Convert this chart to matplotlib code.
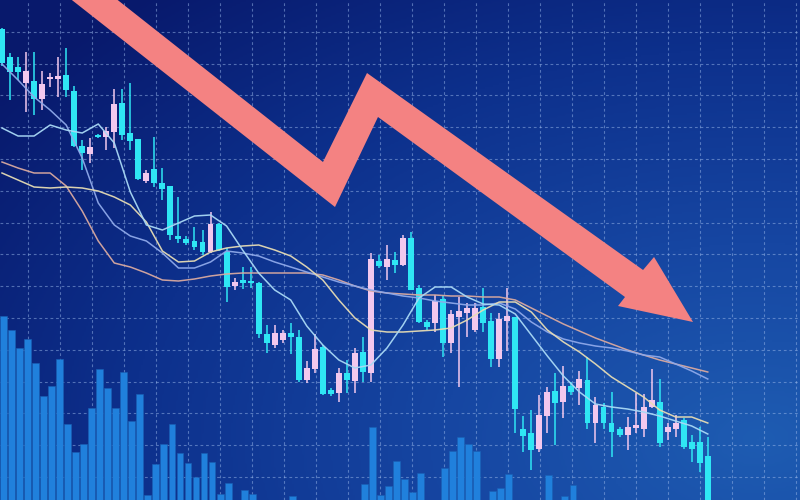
import numpy as np
import matplotlib
matplotlib.use("Agg")
import matplotlib.pyplot as plt
from matplotlib.colors import LinearSegmentedColormap
from matplotlib.patches import Polygon

# ---------------- data (price units, candle index on x) ----------------
open_ = [471, 443, 433, 417, 419, 401, 421, 421, 425, 409,
         354, 346, 365, 363, 368, 397, 367, 361, 319, 331,
         317, 314, 264, 261, 259, 258, 248, 276, 248, 214,
         220, 219, 217, 166, 155, 160, 167, 163, 120, 131,
         153, 110, 107, 127, 119, 148, 127, 239, 233, 240,
         235, 262, 212, 178, 177, 201, 157, 183, 187, 170,
         193, 179, 141, 179, 183, 71, 67, 51, 84, 109,
         98, 114, 112, 120, 77, 93, 77, 71, 65, 72,
         71, 93, 98, 68, 71, 80, 58, 58, 44]
close = [437, 428, 428, 429, 401, 416, 423, 424, 410, 354,
         347, 353, 363, 369, 396, 365, 359, 321, 327, 317,
         311, 265, 261, 257, 253, 248, 276, 250, 213, 218,
         217, 217, 166, 157, 167, 167, 163, 120, 132, 151,
         106, 106, 127, 120, 147, 128, 241, 234, 241, 235,
         262, 210, 178, 173, 199, 157, 186, 189, 192, 192,
         177, 141, 181, 184, 91, 64, 50, 85, 108, 97,
         114, 108, 121, 77, 95, 77, 68, 65, 73, 75,
         93, 100, 57, 73, 77, 53, 51, 37, -10]
high = [472, 447, 443, 448, 448, 429, 427, 443, 452, 414,
        360, 362, 366, 373, 411, 411, 417, 361, 330, 363,
        332, 314, 303, 264, 273, 270, 288, 277, 252, 222,
        233, 233, 218, 175, 175, 170, 177, 170, 139, 166,
        155, 112, 132, 140, 152, 163, 247, 245, 255, 248,
        265, 268, 215, 180, 205, 205, 190, 203, 197, 197,
        212, 187, 187, 212, 183, 84, 90, 105, 113, 127,
        134, 118, 129, 143, 103, 97, 108, 73, 83, 107,
        106, 131, 121, 77, 85, 82, 65, 73, 63]
low = [434, 400, 420, 388, 385, 390, 413, 403, 403, 353,
       330, 337, 362, 350, 352, 360, 350, 320, 317, 313,
       300, 260, 257, 255, 250, 245, 247, 249, 198, 210,
       211, 212, 162, 147, 152, 157, 146, 118, 117, 127,
       105, 104, 98, 107, 107, 118, 118, 232, 220, 227,
       234, 210, 177, 170, 168, 143, 147, 113, 163, 168,
       168, 133, 133, 149, 67, 48, 30, 48, 67, 55,
       82, 105, 95, 71, 57, 71, 43, 63, 50, 67,
       63, 92, 53, 60, 63, 51, 38, 28, -10]

volume = [184, 170, 152, 161, 137, 104, 114, 141, 76, 48,
          56, 92, 131, 112, 92, 128, 79, 106, 5, 36,
          56, 76, 47, 37, 23, 47, 38, 6, 17, 0,
          10, 6, 0, 0, 0, 0, 4, 0, 0, 0,
          0, 0, 0, 0, 0, 16, 73, 5, 14, 39,
          21, 8, 27, 0, 0, 32, 49, 63, 56, 49,
          0, 9, 12, 26, 0, 0, 0, 0, 25, 0,
          4, 15]

# moving-average style lines, one value for every second candle
ma_fast = [372, 364, 364, 375, 370, 367, 376, 357, 308, 275,
           270, 277, 284, 285, 274, 250, 227, 210, 200, 174,
           155, 140, 132, 135, 152, 175, 202, 213, 213, 203,
           196, 195, 186, 165, 144, 124, 108, 96, 93, 91,
           88, 84, 79, 74, 66]
ma_mid = [327, 320, 313, 312, 313, 312, 309, 303, 295, 278,
          249, 238, 239, 248, 252, 254, 255, 250, 244, 233,
          220, 200, 182, 170, 168, 168, 169, 170, 172, 180,
          190, 198, 198, 188, 170, 158, 148, 136, 123, 113,
          103, 90, 83, 83, 77]
ma_long = [436, 420, 403, 390, 375, 342, 297, 275, 264, 259,
           247, 232, 232, 238, 249, 247, 244, 238, 233, 228,
           223, 218, 214, 210, 207, 204, 202, 199, 197, 195,
           195, 197, 191, 178, 168, 161, 157, 154, 152, 149,
           145, 143, 136, 129, 121]
ma_slow = [338, 332, 327, 327, 314, 289, 259, 237, 233, 227,
           220, 219, 221, 224, 226, 227, 227, 227, 227, 227,
           225, 220, 214, 209, 207, 206, 205, 205, 204, 204,
           203, 203, 200, 192, 184, 176, 169, 162, 156, 150,
           145, 140, 136, 132, 128]

# trend arrow outline (candle index, price)
arrow_x = [8.10, 40.02, 45.51, 79.93, 81.30, 86.16, 76.81, 77.68, 46.88, 41.52, 2.37]
arrow_y = [540, 338, 427, 230, 243, 178, 194, 203, 383, 293, 540]

# ---------------- figure ----------------
W, H = 800, 500
fig = plt.figure(figsize=(W / 100, H / 100), dpi=100)
ax = fig.add_axes([0, 0, 1, 1])
xmin, xmax = -0.25, 99.5
ymin, ymax = 0, 500
ax.set_xlim(xmin, xmax)
ax.set_ylim(ymin, ymax)

# background gradient (lighter towards top right)
px = np.linspace(0, W, 400)
py = np.linspace(0, H, 250)
PX, PY = np.meshgrid(px, py)
d = np.sqrt(((PX - 760) / 900) ** 2 + ((PY - 60) / 560) ** 2)
d = np.clip(d / 1.05, 0, 1)
bg_cmap = LinearSegmentedColormap.from_list(
    "bg", ["#1e5cb2", "#1646a2", "#0d308c", "#08196c"])
ax.imshow(d, cmap=bg_cmap, extent=[xmin, xmax, ymax, ymin], aspect="auto",
          zorder=0, interpolation="bilinear", origin="upper")
ax.set_ylim(ymin, ymax)

# dashed grid
gx = np.arange(3.24, xmax, 3.99)
gy = np.arange(23, ymax, 31.8)
for v in gx:
    ax.axvline(v, color="#9ab8ea", lw=0.8, ls=(0, (2.5, 2.5)), alpha=0.5, zorder=1)
for h in gy:
    ax.axhline(h, color="#9ab8ea", lw=0.8, ls=(0, (2.5, 2.5)), alpha=0.5, zorder=1)

# volume bars
vol = np.array(volume, dtype=float)
vx = np.arange(len(vol)) + 0.19
m = vol > 0
ax.bar(vx[m], vol[m], width=0.86, bottom=0, color="#2080dc",
       edgecolor="#1a60b4", linewidth=0.4, zorder=2)

# arrow
ax.add_patch(Polygon(np.column_stack([arrow_x, arrow_y]), closed=True,
                     facecolor="#f48282", edgecolor="none", zorder=3))

# candles
o = np.array(open_, float)
c = np.array(close, float)
hi = np.array(high, float)
lo = np.array(low, float)
idx = np.arange(len(o))
up = c >= o
cols = np.where(up, "#f2c8ee", "#2fe6f4")
ax.vlines(idx, lo, hi, colors=cols, lw=1.1, zorder=4)
body_lo = np.minimum(o, c)
body_h = np.maximum(np.abs(c - o), 2.5)
ax.bar(idx, body_h, bottom=body_lo, width=0.74, color=cols, zorder=5,
       linewidth=0)

# moving averages
mx = np.arange(0, len(o), 2)
ax.plot(mx, ma_slow, color="#d9a9a0", lw=1.1, alpha=0.95, zorder=6)
ax.plot(mx, ma_long, color="#8fa9ea", lw=1.1, alpha=0.95, zorder=6)
ax.plot(mx, ma_mid, color="#e6dcb4", lw=1.1, alpha=0.95, zorder=6)
ax.plot(mx, ma_fast, color="#a9d9f6", lw=1.1, alpha=0.95, zorder=6)

ax.set_axis_off()
fig.savefig("out.png", dpi=100)
